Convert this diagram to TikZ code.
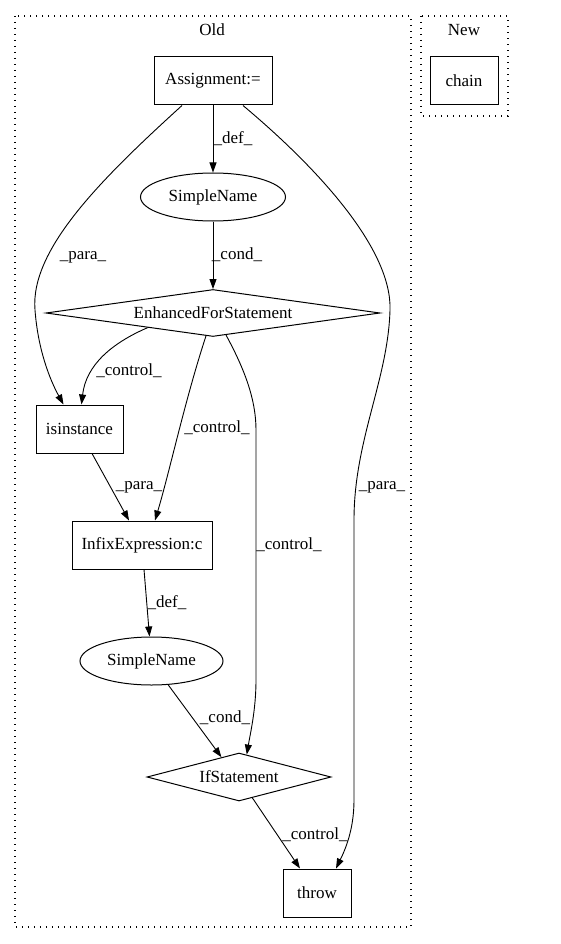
\documentclass[tikz,border=0pt]{standalone}
\usepackage{fontspec}
\setmainfont{Liberation Serif}
\usetikzlibrary{shapes.geometric,arrows.meta,calc}
\begin{document}
\begin{tikzpicture}[x=1pt,y=-1pt,
  every node/.style={font=\fontsize{17}{20}\selectfont, inner sep=0pt},
  box/.style={draw, rectangle, line width=1pt, minimum height=48pt},
  oval/.style={draw, ellipse, line width=1pt, minimum height=48pt},
  diam/.style={draw, diamond, aspect=7, line width=1pt},
  cluster/.style={draw, line width=1.2pt, dash pattern=on 1.4pt off 4.6pt},
  edge/.style={line width=0.9pt, -{Triangle[length=10pt,width=7pt]}},
  lab/.style={anchor=center}
]
\useasboundingbox (0,0) rectangle (560,944);
\draw[cluster] (15,16) rectangle (411,927);
\draw[cluster] (421,16) rectangle (508,116);
\node (old) at (212,30) {Old};
\node (new) at (464,30) {New};

\node[box, minimum width=68pt] (chain) at (464,81) {chain};
\node[box, minimum width=118pt] (asg) at (213,81) {Assignment:=};
\node[oval, minimum width=145pt] (sn1) at (213,197) {SimpleName};
\node[diam, minimum width=334pt, minimum height=47pt] (efs) at (213,313) {EnhancedForStatement};
\node[box, minimum width=87pt] (isi) at (79.5,429) {isinstance};
\node[box, minimum width=140pt] (infx) at (142,545) {InfixExpression:c};
\node[oval, minimum width=143pt] (sn2) at (151.5,661) {SimpleName};
\node[diam, minimum width=184pt, minimum height=48pt] (ifs) at (239,777) {IfStatement};
\node[box, minimum width=68pt] (thr) at (317,893) {throw};

% edges
\draw[edge] (asg.south) -- (sn1.north);
\node[lab] (l1) at (233,139) {\_def\_};
\draw[edge] (sn1.south) -- (efs.north);
\node[lab] (l2) at (237,255) {\_cond\_};

\draw[edge] ([xshift=-31pt]asg.south) .. controls (100,180) and (30,250) .. (35,310)
  .. controls (38,350) and (50,380) .. ([xshift=-16pt]isi.north);
\node[lab] (l3) at (83,257) {\_para\_};

\draw[edge] ([xshift=30pt]asg.south) .. controls (320,170) and (392,250) .. (390,310)
  .. controls (388,380) and (354,440) .. (354,520) -- (354,800)
  .. controls (354,830) and (345,850) .. ([xshift=19pt]thr.north);
\node[lab] (l4) at (382,487) {\_para\_};

\draw[edge] ($(efs.west)!0.61!(efs.south)$) .. controls (112,343) and (86,365) .. ([xshift=2pt]isi.north);
\node[lab] (l5) at (129,371) {\_control\_};

\draw[edge] ($(efs.west)!0.958!(efs.south)$) .. controls (185,400) and (170,470) .. ([xshift=13pt]infx.north);
\node[lab] (l6) at (217,428) {\_control\_};

\draw[edge] ($(efs.south)!0.078!(efs.east)$) .. controls (245,370) and (256,400) .. (256,430) -- (256,680)
  .. controls (256,710) and (250,735) .. ($(ifs.north)!0.084!(ifs.east)$);
\node[lab] (l7) at (289,545) {\_control\_};

\draw[edge] ([xshift=12.5pt]isi.south) -- ([xshift=-13pt]infx.north);
\node[lab] (l8) at (139,487) {\_para\_};

\draw[edge] ([xshift=2pt]infx.south) -- ([xshift=-2pt]sn2.north);
\node[lab] (l9) at (167,603) {\_def\_};

\draw[edge] (sn2.-55.5) -- ($(ifs.west)!0.81!(ifs.north)$);
\node[lab] (l10) at (225,718) {\_cond\_};

\draw[edge] ($(ifs.south)!0.145!(ifs.east)$) -- ([xshift=-17pt]thr.north);
\node[lab] (l11) at (315,835) {\_control\_};
\end{tikzpicture}
\end{document}
